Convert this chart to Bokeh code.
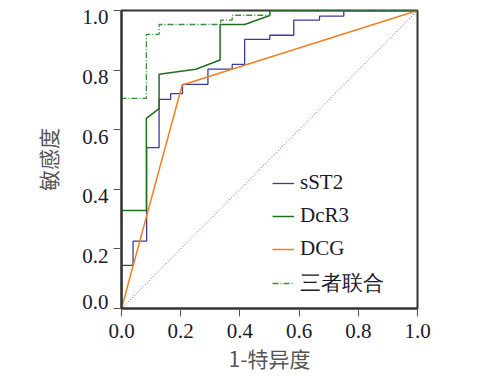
from bokeh.plotting import figure
from bokeh.models import FixedTicker, Legend, LegendItem, LinearAxis
from bokeh.embed import file_html
from bokeh.resources import INLINE

# ROC data (1-specificity, sensitivity)
sst2_x = [0, 0, 0.039, 0.039, 0.085, 0.085, 0.127, 0.127, 0.166, 0.166, 0.206, 0.206,
          0.292, 0.292, 0.374, 0.374, 0.416, 0.416, 0.501, 0.501, 0.582, 0.582,
          0.669, 0.669, 0.751, 0.751, 1.0]
sst2_y = [0, 0.145, 0.145, 0.226, 0.226, 0.54, 0.54, 0.702, 0.702, 0.721, 0.721, 0.752,
          0.752, 0.803, 0.803, 0.819, 0.819, 0.903, 0.903, 0.917, 0.917, 0.968,
          0.968, 0.981, 0.981, 1.0, 1.0]

dcr3_x = [0, 0, 0.084, 0.084, 0.127, 0.127, 0.251, 0.333, 0.333, 0.416, 0.501, 0.501, 1.0]
dcr3_y = [0, 0.329, 0.329, 0.638, 0.671, 0.786, 0.803, 0.834, 0.953, 0.953, 0.983, 1.0, 1.0]

dcg_x = [0, 0.205, 1.0]
dcg_y = [0, 0.75, 1.0]

comb_x = [0, 0, 0.084, 0.084, 0.127, 0.127, 0.335, 0.335, 0.374, 0.374, 0.501, 0.501, 1.0]
comb_y = [0, 0.705, 0.705, 0.920, 0.920, 0.953, 0.953, 0.968, 0.968, 0.984, 0.984, 1.0, 1.0]

ref_x = [0, 1]
ref_y = [0, 1]

ticks = [0, 0.2, 0.4, 0.6, 0.8, 1.0]
tick_labels = ["0.0", "0.2", "0.4", "0.6", "0.8", "1.0"]
labels = ["sST2", "DcR3", "DCG", "三者联合"]

p = figure(width=495, height=380, output_backend="svg", toolbar_location=None,
           x_range=(0, 1), y_range=(0, 1),
           min_border_left=121, min_border_right=78, min_border_top=10, min_border_bottom=72)
p.grid.visible = False
p.background_fill_color = "white"
p.border_fill_color = "white"
p.outline_line_color = "#333333"
p.outline_line_width = 2

ref = p.line(ref_x, ref_y, line_color="#9a4a5a", line_width=1, line_dash="1 2")
r1 = p.line(sst2_x, sst2_y, line_color="#3b3b9e", line_width=1.3)
r3 = p.line(dcg_x, dcg_y, line_color="#f47d20", line_width=1.5)
r2 = p.line(dcr3_x, dcr3_y, line_color="#1f6f1f", line_width=1.5)
r4 = p.line(comb_x, comb_y, line_color="#3a8f3a", line_width=1.3, line_dash="6 2 1 2")

label_map = dict(zip(ticks, tick_labels))
for ax in (p.xaxis[0], p.yaxis[0]):
    ax.ticker = FixedTicker(ticks=ticks)
    ax.major_label_overrides = label_map
    ax.minor_tick_line_color = None
    ax.major_tick_in = 0
    ax.major_tick_out = 8
    ax.major_tick_line_color = "#555555"
    ax.axis_line_color = "#333333"
    ax.axis_line_width = 2
    ax.major_label_text_font = "Liberation Serif"
    ax.major_label_text_font_size = "21px"
    ax.major_label_text_color = "#1a1a2a"

p.xaxis.axis_label = "1-特异度"
p.xaxis.axis_label_text_font = "Noto Sans CJK SC"
p.xaxis.axis_label_text_font_style = "normal"
p.xaxis.axis_label_text_font_size = "21px"
p.xaxis.axis_label_text_color = "#555555"
p.xaxis.major_label_standoff = 7
p.xaxis.axis_label_standoff = 2

# inner y axis: tick marks only
p.yaxis.major_label_text_alpha = 0
p.yaxis.major_label_standoff = 0

# outer y axis: tick labels sitting just below their ticks (0.0 just above)
half = 7 / 299
label_pos = [t + half if t == 0 else t - half for t in ticks]
ylab = LinearAxis(ticker=FixedTicker(ticks=label_pos),
                  major_label_overrides=dict(zip(label_pos, tick_labels)),
                  axis_line_color=None, major_tick_line_color=None,
                  minor_tick_line_color=None, major_tick_out=0, major_tick_in=0,
                  major_label_standoff=5,
                  major_label_text_font="Liberation Serif",
                  major_label_text_font_size="21px",
                  major_label_text_color="#1a1a2a",
                  axis_label="敏感度", axis_label_standoff=16,
                  axis_label_text_font="Noto Sans CJK SC",
                  axis_label_text_font_style="normal",
                  axis_label_text_font_size="21px",
                  axis_label_text_color="#555555")
p.add_layout(ylab, "left")

legend = Legend(items=[LegendItem(label=labels[0], renderers=[r1]),
                       LegendItem(label=labels[1], renderers=[r2]),
                       LegendItem(label=labels[2], renderers=[r3]),
                       LegendItem(label=labels[3], renderers=[r4])],
                location=(151, 11))
legend.border_line_color = None
legend.background_fill_alpha = 0
legend.padding = 0
legend.margin = 0
legend.glyph_width = 22
legend.glyph_height = 20
legend.label_height = 20
legend.spacing = 8
legend.label_standoff = 6
legend.label_text_font = "Liberation Serif"
legend.label_text_font_size = "21px"
legend.label_text_color = "#1a1a2a"
p.add_layout(legend, "center")

open("out.html", "w").write(file_html(p, INLINE))
